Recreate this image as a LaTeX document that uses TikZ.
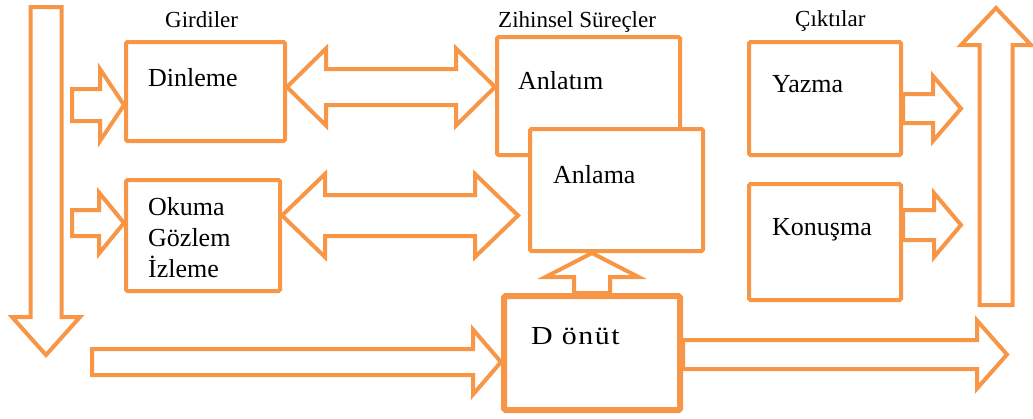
\documentclass[tikz,border=0pt]{standalone}
\usepackage{fontspec}
\setmainfont{Liberation Serif}
\newfontfamily\donfont[FakeStretch=1.15,LetterSpace=6]{Liberation Serif}
\usetikzlibrary{calc}
\definecolor{Orange}{HTML}{F79646}

\newcommand{\fatarrow}[6][]{%
  \path #2 coordinate (fa-s) #3 coordinate (fa-e);
  \coordinate (fa-h) at ($(fa-e)!#6!(fa-s)$);
  \draw[block,#1] ($(fa-s)!#4!90:(fa-e)$) -- ($(fa-h)!#4!90:(fa-e)$)
    -- ($(fa-h)!#5!90:(fa-e)$) -- (fa-e) -- ($(fa-h)!#5!-90:(fa-e)$)
    -- ($(fa-h)!#4!-90:(fa-e)$) -- ($(fa-s)!#4!-90:(fa-e)$) -- cycle;
}
\newcommand{\fatdarrow}[6][]{%
  \path #2 coordinate (fa-s) #3 coordinate (fa-e);
  \coordinate (fa-h) at ($(fa-e)!#6!(fa-s)$);
  \coordinate (fa-g) at ($(fa-s)!#6!(fa-e)$);
  \draw[block,#1] (fa-s) -- ($(fa-g)!#5!90:(fa-e)$) -- ($(fa-g)!#4!90:(fa-e)$)
    -- ($(fa-h)!#4!90:(fa-e)$) -- ($(fa-h)!#5!90:(fa-e)$) -- (fa-e)
    -- ($(fa-h)!#5!-90:(fa-e)$) -- ($(fa-h)!#4!-90:(fa-e)$)
    -- ($(fa-g)!#4!-90:(fa-e)$) -- ($(fa-g)!#5!-90:(fa-e)$) -- cycle;
}

\begin{document}
\begin{tikzpicture}[x=1pt,y=-1pt,
  box/.style={draw=Orange,line width=4pt,fill=white,rounded corners=1.5pt,inner sep=0pt},
  block/.style={draw=Orange,line width=4pt,fill=white,line join=miter},
  txt/.style={anchor=base west,inner sep=0pt,font=\fontsize{26}{31}\selectfont,align=left},
  lbl/.style={anchor=base west,inner sep=0pt,font=\fontsize{23}{27}\selectfont}
]
\useasboundingbox (0,0) rectangle (1033,418);
\node[box,minimum width=159pt,minimum height=99pt] (din) at (205.5,91.5) {};
\node[box,minimum width=154pt,minimum height=111pt] (oku) at (203,235.5) {};
\node[box,minimum width=176pt,minimum height=114pt,line width=6pt] (don) at (592,353) {};
\node[box,minimum width=183pt,minimum height=118pt] (anlt) at (588.5,96) {};
\node[box,minimum width=173pt,minimum height=122pt] (anlm) at (616.5,190) {};
\node[box,minimum width=152pt,minimum height=113pt] (yaz) at (825,98.5) {};
\node[box,minimum width=152pt,minimum height=116pt] (kon) at (825,242) {};

\coordinate (ltop) at (46,7);
\coordinate (lbot) at (46,355);
\coordinate (rbot) at (996,305);
\coordinate (rtop) at (996,8);
\coordinate (in1) at (72,105);
\coordinate (in2) at (72,223);
\coordinate (d1) at (0,87);
\coordinate (d2) at (518,215.5);
\coordinate (fb) at (92,362);
\coordinate (out) at (1007,354.5);
\coordinate (o1) at (961,108.5);
\coordinate (o2) at (961,225);

\fatarrow{(ltop)}{(lbot)}{15.5pt}{34pt}{38pt}
\fatarrow{(rbot)}{(rtop)}{16.5pt}{35pt}{37pt}
\fatarrow{(in1)}{(din.west |- in1)}{16pt}{36pt}{24pt}
\fatarrow{(in2)}{(oku.west |- in2)}{13pt}{30.5pt}{25pt}
\fatdarrow{(din.east |- d1)}{(anlt.west |- d1)}{18pt}{38.5pt}{39pt}
\fatdarrow{(oku.east |- d2)}{(d2)}{20.5pt}{41.5pt}{43pt}
\fatarrow{(don.north)}{(don.north |- anlm.south)}{18pt}{46.5pt}{24pt}
\fatarrow{(fb)}{(don.west |- fb)}{13pt}{32.5pt}{28pt}
\fatarrow{(don.east |- out)}{(out)}{14.5pt}{34pt}{30pt}
\fatarrow{(yaz.east |- o1)}{(o1)}{14.5pt}{32.5pt}{28pt}
\fatarrow{(kon.east |- o2)}{(o2)}{15pt}{32pt}{27pt}

\node[lbl] (girdi) at (165,27) {Girdiler};
\node[lbl] (zihin) at (498,27) {Zihinsel Süreçler};
\node[lbl] (cikti) at (795,26) {Çıktılar};
\node[txt] (din-t) at (148,86) {Dinleme};
\node[txt] (oku-t) at (148,277) {Okuma\\Gözlem\\İzleme};
\node[txt] (anlt-t) at (518,89) {Anlatım};
\node[txt] (anlm-t) at (553,183) {Anlama};
\node[txt] (yaz-t) at (772,92) {Yazma};
\node[txt] (kon-t) at (772,235) {Konuşma};
\node[txt,font=\donfont\fontsize{26}{31}\selectfont] (don-t) at (531,344) {D önüt};
\end{tikzpicture}
\end{document}
